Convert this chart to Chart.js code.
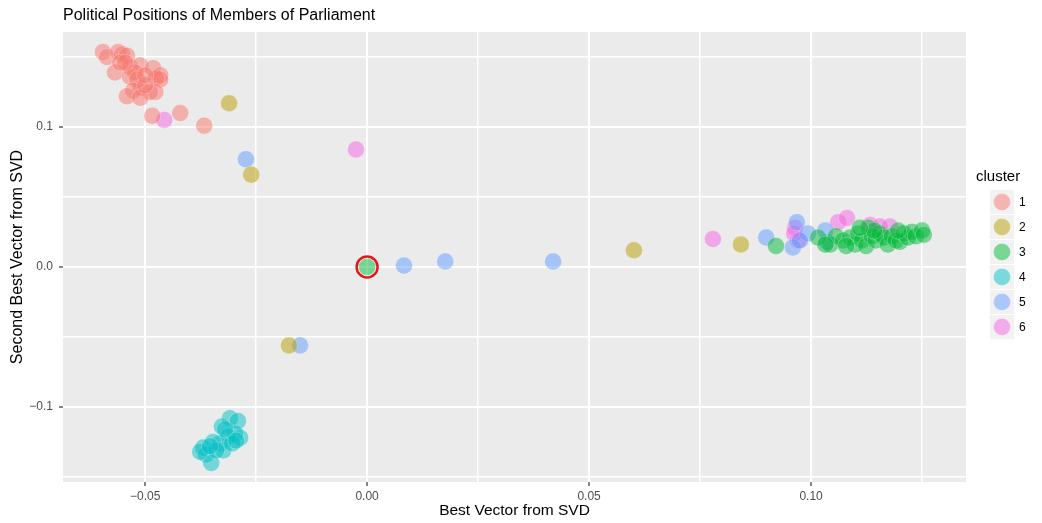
<!DOCTYPE html>
<html>
<head>
<meta charset="utf-8">
<script src="https://cdn.jsdelivr.net/npm/chart.js@4.4.1/dist/chart.umd.min.js"></script>
<style>
  body { margin: 0; background: #fff; }
</style>
</head>
<body>
<canvas id="canvas" width="1042" height="523"></canvas>
<script>
var clusterNames = ["1", "2", "3", "4", "5", "6"];
var clusterColors = ["248,118,109", "183,159,0", "0,186,56", "0,191,196", "97,156,255", "245,100,227"];

var c1x = [-0.0595, -0.0586, -0.0561, -0.0552, -0.0541, -0.0568, -0.0556, -0.0534, -0.0511, -0.0523, -0.0482, -0.0466, -0.0466, -0.0475, -0.0534, -0.0518, -0.0511, -0.0527, -0.0477, -0.0489, -0.0541, -0.0511, -0.0500, -0.0484, -0.0421, -0.0367, -0.0545, -0.0500];
var c1y = [0.1536, 0.150, 0.1536, 0.152, 0.151, 0.139, 0.146, 0.143, 0.144, 0.139, 0.142, 0.137, 0.134, 0.135, 0.136, 0.134, 0.128, 0.126, 0.125, 0.125, 0.122, 0.121, 0.130, 0.108, 0.110, 0.101, 0.146, 0.137];

var c2x = [-0.0311, -0.0261, -0.0176, 0.0601, 0.0842];
var c2y = [0.117, 0.066, -0.056, 0.012, 0.016];

var c3x = [0.0, 0.0921, 0.1043, 0.1056, 0.1072, 0.1088, 0.1099, 0.1106, 0.1115, 0.1124, 0.1129, 0.1137, 0.1146, 0.1155, 0.1164, 0.1173, 0.1182, 0.1191, 0.1200, 0.1209, 0.1218, 0.1227, 0.1236, 0.1250, 0.1254, 0.1016, 0.1032, 0.1079, 0.1142, 0.1196, 0.1110];
var c3y = [0.0, 0.015, 0.016, 0.022, 0.019, 0.021, 0.016, 0.024, 0.019, 0.015, 0.028, 0.022, 0.019, 0.024, 0.021, 0.016, 0.022, 0.019, 0.018, 0.024, 0.021, 0.025, 0.022, 0.026, 0.023, 0.021, 0.016, 0.015, 0.026, 0.026, 0.028];

var c4x = [-0.0309, -0.0291, -0.0327, -0.0286, -0.0297, -0.0313, -0.0331, -0.0347, -0.0369, -0.0363, -0.0351, -0.0324, -0.0376, -0.0340, -0.0304, -0.0320, -0.0295, -0.0354];
var c4y = [-0.108, -0.110, -0.114, -0.122, -0.119, -0.121, -0.126, -0.125, -0.129, -0.134, -0.140, -0.131, -0.132, -0.131, -0.126, -0.116, -0.124, -0.128];

var c5x = [-0.0273, -0.0151, 0.0083, 0.0176, 0.0419, 0.0899, 0.0968, 0.0959, 0.0993, 0.1032, 0.1036, 0.0975];
var c5y = [0.077, -0.056, 0.001, 0.004, 0.004, 0.021, 0.032, 0.014, 0.024, 0.026, 0.018, 0.019];

var c6x = [-0.0457, -0.0025, 0.0779, 0.0964, 0.0971, 0.1061, 0.1081, 0.1133, 0.1178, 0.1155, 0.0962];
var c6y = [0.105, 0.084, 0.020, 0.028, 0.019, 0.032, 0.035, 0.030, 0.029, 0.029, 0.024];

var highlightX = [0.0];
var highlightY = [0.0];

var xMajor = [-0.05, 0, 0.05, 0.1];
var xMajorLabels = ["\u22120.05", "0.00", "0.05", "0.10"];
var xMinor = [-0.025, 0.025, 0.075, 0.125];
var yMajor = [-0.1, 0, 0.1];
var yMajorLabels = ["\u22120.1", "0.0", "0.1"];
var yMinor = [-0.15, -0.05, 0.05, 0.15];

var FONT = "'Liberation Sans', Arial, Helvetica, sans-serif";
var ALPHA = 0.5;

function toPoints(xs, ys) {
  return xs.map(function (x, i) { return { x: x, y: ys[i] }; });
}

var allX = [c1x, c2x, c3x, c4x, c5x, c6x];
var allY = [c1y, c2y, c3y, c4y, c5y, c6y];

var datasets = [{
  label: "highlight",
  data: toPoints(highlightX, highlightY),
  pointRadius: 10.5,
  pointBackgroundColor: "rgba(0,0,0,0)",
  pointBorderColor: "#E3181C",
  pointBorderWidth: 2.5,
  order: 0
}];
clusterNames.forEach(function (name, i) {
  datasets.push({
    label: name,
    data: toPoints(allX[i], allY[i]),
    pointRadius: 8.5,
    pointBackgroundColor: "rgba(" + clusterColors[i] + "," + ALPHA + ")",
    pointBorderColor: "rgba(255,255,255,0.25)",
    pointBorderWidth: 1,
    order: 1
  });
});

function setTicks(major, minor) {
  return function (scale) {
    scale.ticks = major.concat(minor).sort(function (a, b) { return a - b; })
      .map(function (v) { return { value: v }; });
  };
}
function isMajor(list, v) {
  return list.some(function (m) { return Math.abs(m - v) < 1e-9; });
}

var panelBg = {
  id: "panelBg",
  beforeDraw: function (chart) {
    var a = chart.chartArea, ctx = chart.ctx;
    ctx.save();
    ctx.fillStyle = "#EBEBEB";
    ctx.fillRect(a.left, a.top, a.right - a.left, a.bottom - a.top);
    ctx.restore();
  }
};

var plotTitle = {
  id: "plotTitle",
  afterDraw: function (chart) {
    var ctx = chart.ctx;
    ctx.save();
    ctx.fillStyle = "#000";
    ctx.font = "16px " + FONT;
    ctx.textBaseline = "middle";
    ctx.textAlign = "left";
    ctx.fillText("Political Positions of Members of Parliament", chart.chartArea.left, 16);
    ctx.restore();
  }
};

var ggLegend = {
  id: "ggLegend",
  afterDraw: function (chart) {
    var ctx = chart.ctx;
    var left = 990, top = 190, key = 24, gap = 1;
    ctx.save();
    ctx.fillStyle = "#000";
    ctx.font = "15px " + FONT;
    ctx.textBaseline = "middle";
    ctx.textAlign = "left";
    ctx.fillText("cluster", left - 14, 177);
    clusterNames.forEach(function (name, i) {
      var y = top + i * (key + gap);
      ctx.fillStyle = "#F2F2F2";
      ctx.fillRect(left, y, key, key);
      ctx.beginPath();
      ctx.arc(left + key / 2, y + key / 2, 8.5, 0, Math.PI * 2);
      ctx.fillStyle = "rgba(" + clusterColors[i] + "," + ALPHA + ")";
      ctx.fill();
      ctx.strokeStyle = "rgba(255,255,255,0.25)";
      ctx.lineWidth = 1;
      ctx.stroke();
      ctx.fillStyle = "#000";
      ctx.font = "12px " + FONT;
      ctx.fillText(name, left + key + 5, y + key / 2 + 0.5);
    });
    ctx.restore();
  }
};

var ctx = document.getElementById("canvas").getContext("2d");
var chart = new Chart(ctx, {
  type: "scatter",
  data: { datasets: datasets },
  plugins: [panelBg, plotTitle, ggLegend],
  options: {
    responsive: false,
    animation: false,
    devicePixelRatio: 1,
    layout: { padding: { top: 32, right: 76, bottom: 0, left: 0 } },
    plugins: { legend: { display: false }, tooltip: { enabled: false }, title: { display: false } },
    scales: {
      x: {
        type: "linear",
        min: -0.0685,
        max: 0.1349,
        afterBuildTicks: setTicks(xMajor, xMinor),
        afterFit: function (s) { s.height = 41; },
        border: { display: false },
        grid: {
          color: "#FFFFFF",
          lineWidth: function (c) { return isMajor(xMajor, c.tick.value) ? 2 : 1.5; },
          tickColor: function (c) { return isMajor(xMajor, c.tick.value) ? "#333333" : "rgba(0,0,0,0)"; },
          tickLength: 4,
          tickWidth: 1.2
        },
        ticks: {
          autoSkip: false,
          maxRotation: 0,
          padding: 3,
          color: "#4D4D4D",
          font: { family: FONT, size: 12 },
          callback: function (v) {
            var i = xMajor.findIndex(function (m) { return Math.abs(m - v) < 1e-9; });
            return i >= 0 ? xMajorLabels[i] : "";
          }
        },
        title: {
          display: true,
          text: "Best Vector from SVD",
          color: "#000",
          font: { family: FONT, size: 15.5 },
          padding: { top: 0, bottom: 3 }
        }
      },
      y: {
        type: "linear",
        min: -0.1536,
        max: 0.1679,
        afterBuildTicks: setTicks(yMajor, yMinor),
        afterFit: function (s) { s.width = 63; },
        border: { display: false },
        grid: {
          color: "#FFFFFF",
          lineWidth: function (c) { return isMajor(yMajor, c.tick.value) ? 2 : 1.5; },
          tickColor: function (c) { return isMajor(yMajor, c.tick.value) ? "#333333" : "rgba(0,0,0,0)"; },
          tickLength: 4,
          tickWidth: 1.2
        },
        ticks: {
          autoSkip: false,
          padding: 6,
          color: "#4D4D4D",
          font: { family: FONT, size: 12 },
          callback: function (v) {
            var i = yMajor.findIndex(function (m) { return Math.abs(m - v) < 1e-9; });
            return i >= 0 ? yMajorLabels[i] : "";
          }
        },
        title: {
          display: true,
          text: "Second Best Vector from SVD",
          color: "#000",
          font: { family: FONT, size: 16 },
          padding: { top: 8, bottom: 0 }
        }
      }
    }
  }
});
</script>
</body>
</html>
